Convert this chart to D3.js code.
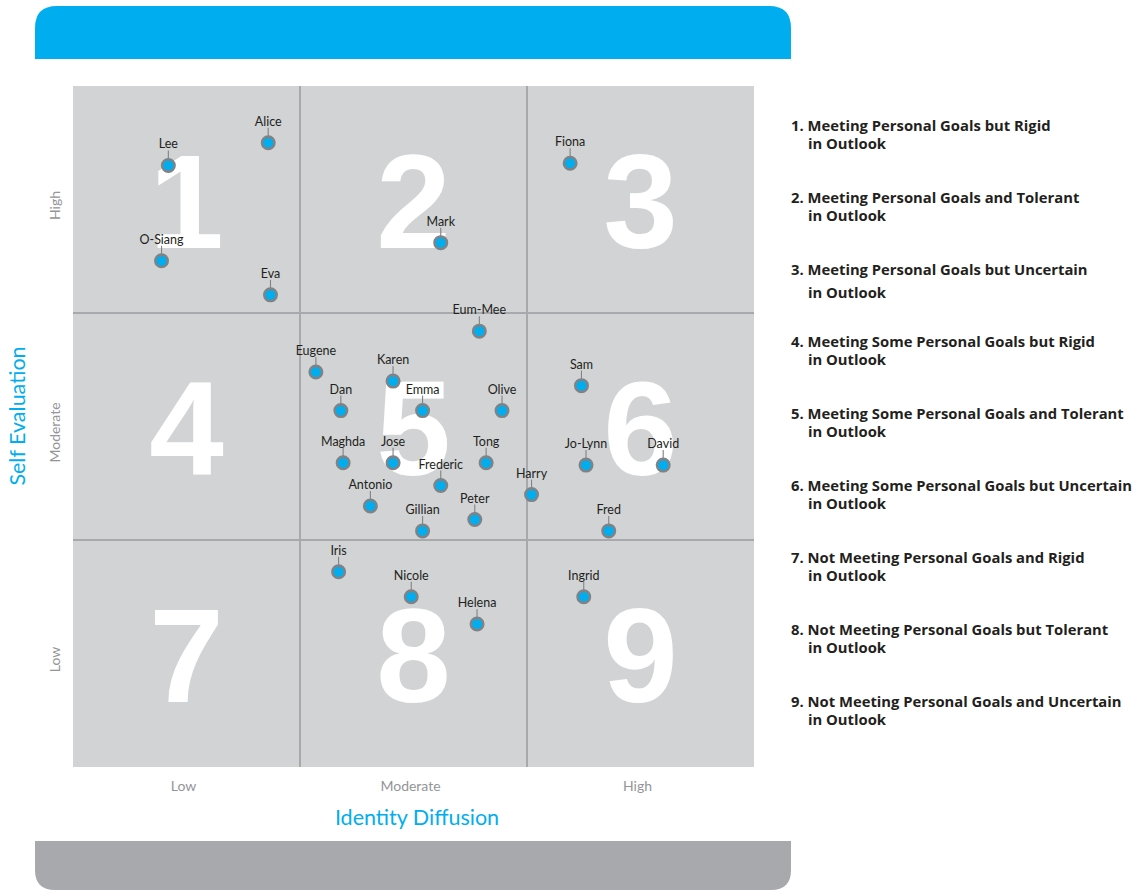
<!DOCTYPE html>
<html>
<head>
<meta charset="utf-8">
<script src="https://cdn.jsdelivr.net/npm/d3@7"></script>
<style>
  html, body { margin: 0; padding: 0; background: #ffffff; }
  svg { display: block; }
</style>
</head>
<body>
<svg id="chart" width="1147" height="890"></svg>
<script>
// ---------- data ----------
const names = ["Lee","Alice","O-Siang","Eva","Fiona","Mark","Eum-Mee","Eugene","Karen","Dan","Emma","Olive","Sam",
  "Maghda","Jose","Tong","Jo-Lynn","David","Frederic","Harry","Antonio","Peter","Gillian","Fred","Iris","Nicole","Ingrid","Helena"];
// Identity Diffusion (0 = low edge, 3 = high edge)
const identityDiffusion = [0.42,0.86,0.39,0.87,2.19,1.62,1.79,1.07,1.41,1.18,1.54,1.89,2.24,
  1.19,1.41,1.82,2.26,2.60,1.62,2.02,1.31,1.77,1.54,2.36,1.17,1.49,2.25,1.78];
// Self Evaluation (0 = low edge, 3 = high edge)
const selfEvaluation = [2.65,2.75,2.23,2.08,2.66,2.31,1.92,1.74,1.70,1.57,1.57,1.57,1.68,
  1.34,1.34,1.34,1.33,1.33,1.24,1.20,1.15,1.09,1.04,1.04,0.86,0.75,0.75,0.63];
const highlighted = ["Emma"];
const levelLabels = ["Low","Moderate","High"];
const zoneNumbers = [1,2,3,4,5,6,7,8,9];
const legendTitles = [
  "Meeting Personal Goals but Rigid",
  "Meeting Personal Goals and Tolerant",
  "Meeting Personal Goals but Uncertain",
  "Meeting Some Personal Goals but Rigid",
  "Meeting Some Personal Goals and Tolerant",
  "Meeting Some Personal Goals but Uncertain",
  "Not Meeting Personal Goals and Rigid",
  "Not Meeting Personal Goals but Tolerant",
  "Not Meeting Personal Goals and Uncertain"
];
const legendSuffix = "in Outlook";
const xTitle = "Identity Diffusion";
const yTitle = "Self Evaluation";

// ---------- layout ----------
const BLUE = "#00AEEF", GREY_BAR = "#A7A9AC", PLOT_BG = "#D1D3D4", GRID = "#A7A9AC";
const FONT = "Lato, 'Open Sans', sans-serif";
const svg = d3.select("#chart");
const plot = {left: 73, right: 754, top: 86, bottom: 767};

const x = d3.scaleLinear().domain([0,3]).range([plot.left, plot.right]);
const y = d3.scaleLinear().domain([0,3]).range([plot.bottom, plot.top]);

function roundedTop(x0, y0, w, h, r) {
  return `M${x0},${y0+h} L${x0},${y0+r} Q${x0},${y0} ${x0+r},${y0} L${x0+w-r},${y0} Q${x0+w},${y0} ${x0+w},${y0+r} L${x0+w},${y0+h} Z`;
}
function roundedBottom(x0, y0, w, h, r) {
  return `M${x0},${y0} L${x0+w},${y0} L${x0+w},${y0+h-r} Q${x0+w},${y0+h} ${x0+w-r},${y0+h} L${x0+r},${y0+h} Q${x0},${y0+h} ${x0},${y0+h-r} Z`;
}
svg.append("path").attr("d", roundedTop(35, 6, 756, 53, 22)).attr("fill", BLUE);
svg.append("path").attr("d", roundedBottom(35, 841, 756, 49, 20)).attr("fill", GREY_BAR);

// plot background
svg.append("rect")
  .attr("x", x(0)).attr("y", y(3))
  .attr("width", x(3)-x(0)).attr("height", y(0)-y(3))
  .attr("fill", PLOT_BG);

// zone numbers
const zones = svg.append("g");
zoneNumbers.forEach((n, i) => {
  const col = i % 3, row = Math.floor(i / 3);
  const cx = x(col + 0.5), cy = y(3 - row - 0.5);
  zones.append("text")
    .attr("x", cx).attr("y", cy + 48)
    .attr("text-anchor", "middle")
    .attr("font-family", "'Liberation Sans', Arial, sans-serif")
    .attr("font-weight", "bold")
    .attr("font-size", 134)
    .attr("fill", "#ffffff")
    .text(n);
});

// grid dividers
const grid = svg.append("g").attr("stroke", GRID).attr("stroke-width", 2);
[1,2].forEach(v => {
  grid.append("line").attr("x1", x(v)).attr("x2", x(v)).attr("y1", y(3)).attr("y2", y(0));
  grid.append("line").attr("x1", x(0)).attr("x2", x(3)).attr("y1", y(v)).attr("y2", y(v));
});

// x level labels
levelLabels.forEach((t, i) => {
  svg.append("text")
    .attr("x", x(i + 0.5) - 3).attr("y", 791)
    .attr("text-anchor", "middle")
    .attr("font-family", FONT).attr("font-size", 14)
    .attr("fill", "#939598")
    .text(t);
});
// y level labels
levelLabels.forEach((t, i) => {
  const cy = y(i + 0.5);
  svg.append("text")
    .attr("transform", `translate(60,${cy + 6}) rotate(-90)`)
    .attr("text-anchor", "middle")
    .attr("font-family", FONT).attr("font-size", 14)
    .attr("fill", "#939598")
    .text(t);
});

// axis titles
svg.append("text")
  .attr("x", 417).attr("y", 825)
  .attr("text-anchor", "middle")
  .attr("font-family", FONT).attr("font-size", 21.5)
  .attr("fill", BLUE).text(xTitle);
svg.append("text")
  .attr("transform", `translate(25,416) rotate(-90)`)
  .attr("text-anchor", "middle")
  .attr("font-family", FONT).attr("font-size", 21.5)
  .attr("fill", BLUE).text(yTitle);

// points
const pts = names.map((n, i) => ({name: n, xv: identityDiffusion[i], yv: selfEvaluation[i]}));
const g = svg.append("g");
const pg = g.selectAll("g.pt").data(pts).join("g").attr("class", "pt")
  .attr("transform", d => `translate(${x(d.xv)},${y(d.yv)})`);

pg.filter(d => highlighted.includes(d.name)).append("rect")
  .attr("x", -21).attr("y", -29).attr("width", 42).attr("height", 17)
  .attr("fill", "#ffffff");

pg.append("circle").attr("r", 6.3)
  .attr("fill", BLUE).attr("stroke", "#808285").attr("stroke-width", 2.4);
pg.append("line").attr("x1", 0).attr("x2", 0).attr("y1", -15).attr("y2", -3)
  .attr("stroke", "#808285").attr("stroke-width", 1.1);
pg.append("text")
  .attr("y", -17)
  .attr("text-anchor", "middle")
  .attr("font-family", FONT).attr("font-size", 12.5)
  .attr("fill", "#231F20")
  .text(d => d.name);

// legend
const leg = svg.append("g").attr("font-family", "'Open Sans', Lato, sans-serif").attr("font-weight", "bold")
  .attr("font-size", 14.8).attr("fill", "#231F20");
legendTitles.forEach((t, i) => {
  const by = 131 + i * 72;
  leg.append("text").attr("x", 791).attr("y", by).text(`${i+1}. ${t}`);
  leg.append("text").attr("x", 808).attr("y", by + (i === 2 ? 23 : 18)).text(legendSuffix);
});
</script>
</body>
</html>
